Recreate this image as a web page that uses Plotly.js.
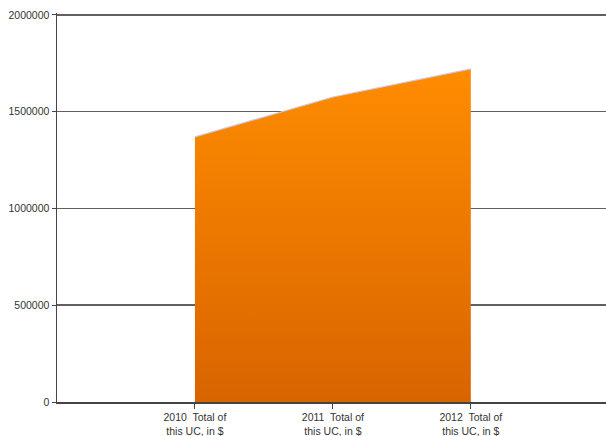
<!DOCTYPE html>
<html><head><meta charset="utf-8">
<script src="https://cdn.plot.ly/plotly-3.0.1.min.js"></script>
<style>html,body{margin:0;padding:0;background:#fff}#c{width:606px;height:436px}</style>
</head><body><div id="c"></div>
<script>
const categories = ["2010\u00a0 Total of<br>this UC, in $", "2011\u00a0 Total of<br>this UC, in $", "2012\u00a0 Total of<br>this UC, in $"];
const values = [1370000, 1576000, 1721000];
const yTicks = [0, 500000, 1000000, 1500000, 2000000];
const xIdx = categories.map((_, i) => i);

Plotly.newPlot('c', [{
  type: 'scatter', mode: 'lines',
  x: xIdx, y: values,
  fill: 'tozeroy',
  fillgradient: {type: 'vertical', colorscale: [[0, '#d86400'], [1, '#ff8c00']], start: 0, stop: 1721000},
  line: {color: '#d0c8dc', width: 1.2},
  hoverinfo: 'none'
}], {
  width: 606, height: 436,
  margin: {l: 57, r: 0, t: 13, b: 34},
  paper_bgcolor: '#fff', plot_bgcolor: '#fff',
  showlegend: false,
  font: {family: 'Liberation Sans, Arial, sans-serif', size: 10.5, color: '#333'},
  xaxis: {
    range: [-1, 2.98], tickvals: xIdx, ticktext: categories,
    showgrid: false, zeroline: false,
    showline: true, linecolor: '#444', linewidth: 1.5,
    ticks: 'outside', ticklen: 5, tickcolor: '#444',
    tickfont: {size: 10.5, color: '#333'}
  },
  yaxis: {
    range: [0, 2010000], tickvals: yTicks, ticktext: yTicks.map(String),
    showgrid: true, gridcolor: '#606060', gridwidth: 1.5,
    zeroline: false,
    showline: true, linecolor: '#444', linewidth: 1.5,
    ticks: 'outside', ticklen: 4, tickcolor: '#444',
    tickfont: {size: 10.5, color: '#333'}
  }
}, {staticPlot: true});
</script></body></html>
